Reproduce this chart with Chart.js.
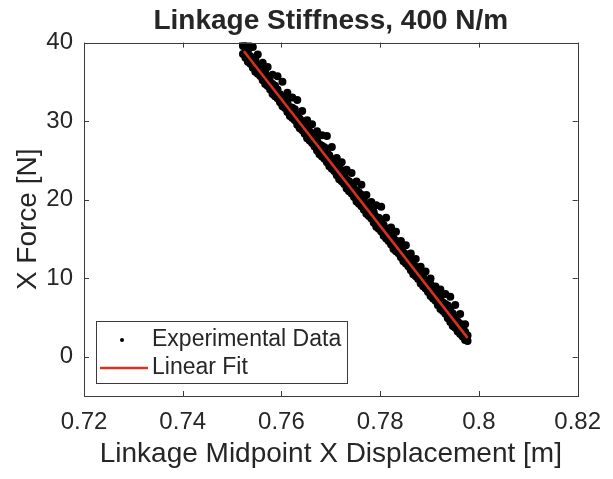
<!DOCTYPE html>
<html>
<head>
<meta charset="utf-8">
<script src="https://cdn.jsdelivr.net/npm/chart.js@4.4.1/dist/chart.umd.min.js"></script>
<style>
html,body{margin:0;padding:0;background:#fff;}
#wrap{width:613px;height:479px;}
</style>
</head>
<body>
<div id="wrap"><canvas id="c" width="613" height="479"></canvas></div>
<script>
// ---- Data ----
const titleText = "Linkage Stiffness, 400 N/m";
const xLabel = "Linkage Midpoint X Displacement [m]";
const yLabel = "X Force [N]";
const xTickValues = [0.72, 0.74, 0.76, 0.78, 0.8, 0.82];
const xTickLabels = ["0.72", "0.74", "0.76", "0.78", "0.8", "0.82"];
const yTickValues = [0, 10, 20, 30, 40];
const yTickLabels = ["0", "10", "20", "30", "40"];
const legendLabels = ["Experimental Data", "Linear Fit"];

// Linear fit end points
const fitX = [0.7524, 0.7977];
const fitY = [38.9, 2.4];

// Experimental data (dense noisy band), fine x grid
const dataXFine = [0.7522,0.7527,0.7532,0.7537,0.7542,0.7547,0.7552,0.7557,0.7562,0.7567,
0.7572,0.7577,0.7582,0.7587,0.7592,0.7597,0.7602,0.7607,0.7612,0.7617,
0.7622,0.7627,0.7632,0.7637,0.7642,0.7647,0.7652,0.7657,0.7662,0.7667,
0.7672,0.7677,0.7682,0.7687,0.7692,0.7697,0.7702,0.7707,0.7712,0.7717,
0.7722,0.7727,0.7732,0.7737,0.7742,0.7747,0.7752,0.7757,0.7762,0.7767,
0.7772,0.7777,0.7782,0.7787,0.7792,0.7797,0.7802,0.7807,0.7812,0.7817,
0.7822,0.7827,0.7832,0.7837,0.7842,0.7847,0.7852,0.7857,0.7862,0.7867,
0.7872,0.7877,0.7882,0.7887,0.7892,0.7897,0.7902,0.7907,0.7912,0.7917,
0.7922,0.7927,0.7932,0.7937,0.7942,0.7947,0.7952,0.7957,0.7962,0.7967,
0.7972,0.7977];
const dataYLow = [38.56,38.06,37.55,37.30,36.80,36.30,36.04,35.74,35.19,34.73,
34.48,34.03,33.47,33.17,32.92,32.42,31.91,31.66,31.16,30.65,
30.40,30.10,29.54,29.09,28.84,28.39,27.83,27.53,27.23,26.77,
26.27,25.77,25.51,25.21,24.76,24.26,23.95,23.65,23.10,22.59,
22.34,21.99,21.43,21.08,20.78,20.33,19.77,19.47,19.17,18.71,
18.21,17.91,17.60,17.05,16.55,16.30,15.94,15.39,15.04,14.73,
14.28,13.73,13.42,13.17,12.67,12.17,11.86,11.51,11.01,10.50,
10.25,9.90,9.34,8.99,8.69,8.24,7.73,7.43,7.13,6.57,
6.07,5.82,5.46,4.91,4.41,3.91,3.70,3.20,2.90,2.59,
2.14,1.99];
const dataYMid = [39.56,39.36,38.85,38.25,38.05,37.85,37.14,36.64,36.54,36.23,
35.63,35.03,34.72,34.52,34.02,33.42,33.11,33.01,32.41,31.80,
31.70,31.50,30.79,30.29,29.99,29.79,29.28,28.68,28.38,28.17,
27.57,27.07,26.86,26.66,26.16,25.66,25.15,24.55,24.25,24.04,
23.74,23.14,22.53,22.33,22.03,21.43,21.12,20.92,20.62,20.01,
19.41,18.91,18.70,18.40,17.80,17.70,17.39,16.79,16.29,15.78,
15.28,15.08,14.77,14.27,13.77,13.27,13.06,12.76,12.16,11.65,
11.45,11.25,10.64,10.14,9.64,9.44,9.23,8.63,8.03,7.82,
7.52,6.92,6.71,6.51,6.01,5.51,5.00,4.50,4.20,3.69,
3.19,2.69];
// outer (upper/right) edge of the band, coarse x grid
const dataXCoarse = [0.7522,0.7532,0.7542,0.7552,0.7562,0.7572,0.7582,0.7592,0.7602,0.7612,
0.7622,0.7632,0.7642,0.7652,0.7662,0.7672,0.7682,0.7692,0.7702,0.7712,
0.7722,0.7732,0.7742,0.7752,0.7762,0.7772,0.7782,0.7792,0.7802,0.7812,
0.7822,0.7832,0.7842,0.7852,0.7862,0.7872,0.7882,0.7892,0.7902,0.7912,
0.7922,0.7932,0.7942,0.7952,0.7962,0.7972];
const dataYHigh = [39.90,39.95,39.45,38.50,37.45,36.90,35.90,35.70,35.00,33.60,
33.00,32.70,31.30,30.10,29.60,28.70,28.20,28.10,26.70,25.30,
24.75,23.80,23.40,22.30,21.90,20.60,19.70,19.30,19.10,17.70,
16.45,15.90,14.75,14.20,13.15,12.45,11.45,10.85,9.95,8.95,
8.55,8.00,7.65,6.60,5.45,4.15];

// ---- Build datasets ----
const expPoints = [];
dataXFine.forEach((x, i) => { expPoints.push({x: x, y: dataYLow[i]}); });
dataXFine.forEach((x, i) => { expPoints.push({x: x, y: dataYMid[i]}); });
dataXCoarse.forEach((x, i) => { expPoints.push({x: x, y: dataYHigh[i]}); });
const fitPoints = fitX.map((x, i) => ({x: x, y: fitY[i]}));

const TXT = '#262626';
const AX = '#3a3a3a';
const RED = '#d8321f';
const FONT = '"Liberation Sans", Arial, sans-serif';

const boxPlugin = {
  id: 'matlabBox',
  afterDatasetsDraw(chart) {
    const ctx = chart.ctx;
    const a = chart.chartArea;
    const xs = chart.scales.x, ys = chart.scales.y;
    ctx.save();
    ctx.strokeStyle = AX;
    ctx.lineWidth = 1;
    ctx.strokeRect(Math.round(a.left) + 0.5, Math.round(a.top) + 0.5,
                   Math.round(a.right - a.left), Math.round(a.bottom - a.top));
    const tl = 5;
    ctx.beginPath();
    xTickValues.forEach(v => {
      const px = Math.round(xs.getPixelForValue(v)) + 0.5;
      ctx.moveTo(px, a.bottom); ctx.lineTo(px, a.bottom - tl);
      ctx.moveTo(px, a.top); ctx.lineTo(px, a.top + tl);
    });
    yTickValues.forEach(v => {
      const py = Math.round(ys.getPixelForValue(v)) + 0.5;
      ctx.moveTo(a.left, py); ctx.lineTo(a.left + tl, py);
      ctx.moveTo(a.right, py); ctx.lineTo(a.right - tl, py);
    });
    ctx.stroke();

    // legend (inside, lower-left)
    const lx = Math.round(a.left) + 12, lw = 251, lh = 62;
    const ly = Math.round(a.bottom) - 13 - lh;
    ctx.fillStyle = '#fff';
    ctx.fillRect(lx, ly, lw, lh);
    ctx.strokeStyle = AX;
    ctx.strokeRect(lx + 0.5, ly + 0.5, lw, lh);
    ctx.font = '23px ' + FONT;
    ctx.textBaseline = 'middle';
    ctx.textAlign = 'left';
    ctx.fillStyle = TXT;
    ctx.fillText(legendLabels[0], lx + 56, ly + 19);
    ctx.fillText(legendLabels[1], lx + 56, ly + 47);
    ctx.fillStyle = '#000';
    ctx.beginPath(); ctx.arc(lx + 26, ly + 19, 2, 0, Math.PI * 2); ctx.fill();
    ctx.strokeStyle = RED; ctx.lineWidth = 2.5;
    ctx.beginPath(); ctx.moveTo(lx + 4, ly + 47); ctx.lineTo(lx + 52, ly + 47); ctx.stroke();
    ctx.restore();
  }
};

new Chart(document.getElementById('c'), {
  type: 'scatter',
  data: {
    datasets: [
      {
        label: legendLabels[1],
        data: fitPoints,
        showLine: true,
        borderColor: RED,
        borderWidth: 2.5,
        pointRadius: 0,
        fill: false
      },
      {
        label: legendLabels[0],
        data: expPoints,
        backgroundColor: '#000',
        borderWidth: 0,
        pointRadius: 4,
        pointHoverRadius: 4
      }
    ]
  },
  options: {
    responsive: false,
    animation: false,
    devicePixelRatio: 1,
    layout: { padding: { left: 0, right: 32, top: 0, bottom: 0 } },
    plugins: {
      legend: { display: false },
      tooltip: { enabled: false },
      title: {
        display: true,
        fullSize: false,
        text: titleText,
        color: TXT,
        font: { family: FONT, size: 28, weight: 'bold' },
        padding: { top: 4, bottom: 5 }
      }
    },
    scales: {
      x: {
        type: 'linear',
        min: 0.72, max: 0.82,
        afterBuildTicks(s) { s.ticks = xTickValues.map(v => ({value: v})); },
        afterFit(s) { s.height = 83; },
        grid: { display: false, drawTicks: false },
        border: { display: false },
        ticks: {
          color: TXT,
          padding: 12,
          maxRotation: 0,
          autoSkip: false,
          font: { family: FONT, size: 24 },
          callback: (v) => { const i = xTickValues.findIndex(t => Math.abs(t - v) < 1e-9); return i >= 0 ? xTickLabels[i] : ''; }
        },
        title: {
          display: true,
          text: xLabel,
          color: TXT,
          font: { family: FONT, size: 28 },
          padding: { top: 0, bottom: 8 }
        }
      },
      y: {
        type: 'linear',
        min: -5, max: 40,
        afterBuildTicks(s) { s.ticks = yTickValues.map(v => ({value: v})); },
        afterFit(s) { s.width = 84; },
        grid: { display: false, drawTicks: false },
        border: { display: false },
        ticks: {
          color: TXT,
          padding: 11,
          autoSkip: false,
          font: { family: FONT, size: 24 },
          callback: (v) => { const i = yTickValues.indexOf(v); return i >= 0 ? yTickLabels[i] : ''; }
        },
        title: {
          display: true,
          text: yLabel,
          color: TXT,
          font: { family: FONT, size: 28 },
          padding: { top: 11, bottom: 0 }
        }
      }
    }
  },
  plugins: [boxPlugin]
});
</script>
</body>
</html>
